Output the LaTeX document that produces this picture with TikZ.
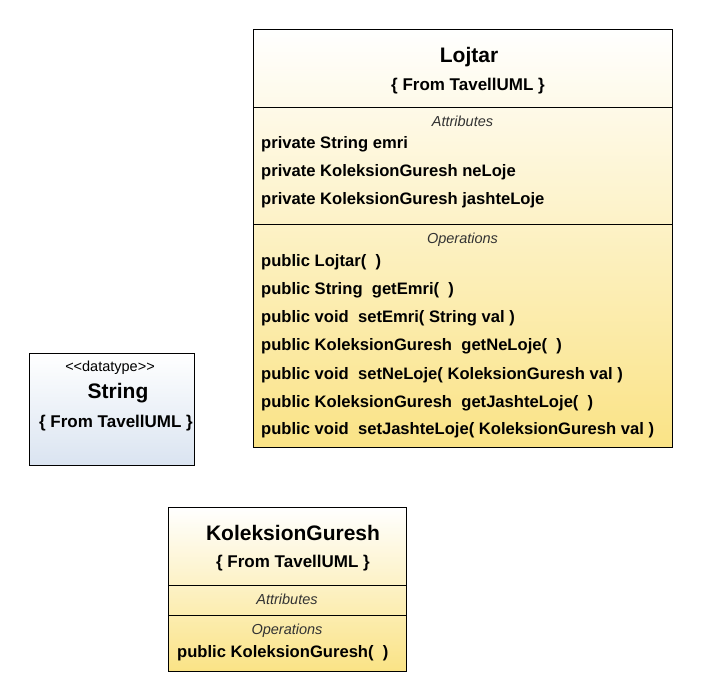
\documentclass[tikz,border=0pt]{standalone}
\usepackage{fontspec}
\setmainfont{Liberation Sans}
\definecolor{classyellow}{HTML}{FAE386}
\definecolor{typeblue}{HTML}{DAE4F1}
\tikzset{
  classbox/.style={draw, line width=0.8pt, top color=white, bottom color=classyellow},
  typebox/.style={draw, line width=0.8pt, top color=white, bottom color=typeblue},
  sep/.style={line width=0.8pt},
  title/.style={anchor=base, inner sep=0pt, font=\bfseries\fontsize{21}{24}\selectfont},
  from/.style={anchor=base, inner sep=0pt, font=\bfseries\fontsize{17}{20}\selectfont},
  compart/.style={anchor=base, inner sep=0pt, font=\itshape\fontsize{14.5}{17}\selectfont, text=black!80},
  stereo/.style={anchor=base, inner sep=0pt, font=\fontsize{14.5}{17}\selectfont},
  member/.style={anchor=base west, inner sep=0pt, font=\bfseries\fontsize{16.6}{19}\selectfont}
}
\begin{document}
\begin{tikzpicture}[x=1pt, y=-1pt]
\useasboundingbox (0,0) rectangle (701,700);

\draw[classbox] (253,29) rectangle (672,447);
\draw[sep] (253,107) -- (672,107);
\draw[sep] (253,224) -- (672,224);
\node[title] (lojtar) at (469,63) {Lojtar};
\node[from] (lojtarFrom) at (468,91) {\{ From TavellUML \}};
\node[compart] (lojtarAttr) at (462.5,127) {Attributes};
\node[member] (emri) at (261,149) {private String emri};
\node[member] (neLoje) at (261,177) {private KoleksionGuresh neLoje};
\node[member] (jashteLoje) at (261,205) {private KoleksionGuresh jashteLoje};
\node[compart] (lojtarOps) at (462.5,244) {Operations};
\node[member] (opLojtar) at (261,267) {public Lojtar(\ \ )};
\node[member] (getEmri) at (261,295) {public String\ \ getEmri(\ \ )};
\node[member] (setEmri) at (261,323) {public void\ \ setEmri( String val )};
\node[member] (getNeLoje) at (261,351) {public KoleksionGuresh\ \ getNeLoje(\ \ )};
\node[member] (setNeLoje) at (261,379) {public void\ \ setNeLoje( KoleksionGuresh val )};
\node[member] (getJashteLoje) at (261,407) {public KoleksionGuresh\ \ getJashteLoje(\ \ )};
\node[member] (setJashteLoje) at (261,434) {public void\ \ setJashteLoje( KoleksionGuresh val )};

\draw[typebox] (29,353) rectangle (194,465);
\node[stereo] (datatype) at (110,371) {<{}<datatype>{}>};
\node[title] (string) at (118,398) {String};
\node[from] (stringFrom) at (116,427) {\{ From TavellUML \}};

\draw[classbox] (168,507) rectangle (406,671);
\draw[sep] (168,585) -- (406,585);
\draw[sep] (168,615) -- (406,615);
\node[title] (koleksion) at (293,540) {KoleksionGuresh};
\node[from] (koleksionFrom) at (293,567) {\{ From TavellUML \}};
\node[compart] (koleksionAttr) at (287,604) {Attributes};
\node[compart] (koleksionOps) at (287,634) {Operations};
\node[member] (opKoleksion) at (177,657) {public KoleksionGuresh(\ \ )};
\end{tikzpicture}
\end{document}
